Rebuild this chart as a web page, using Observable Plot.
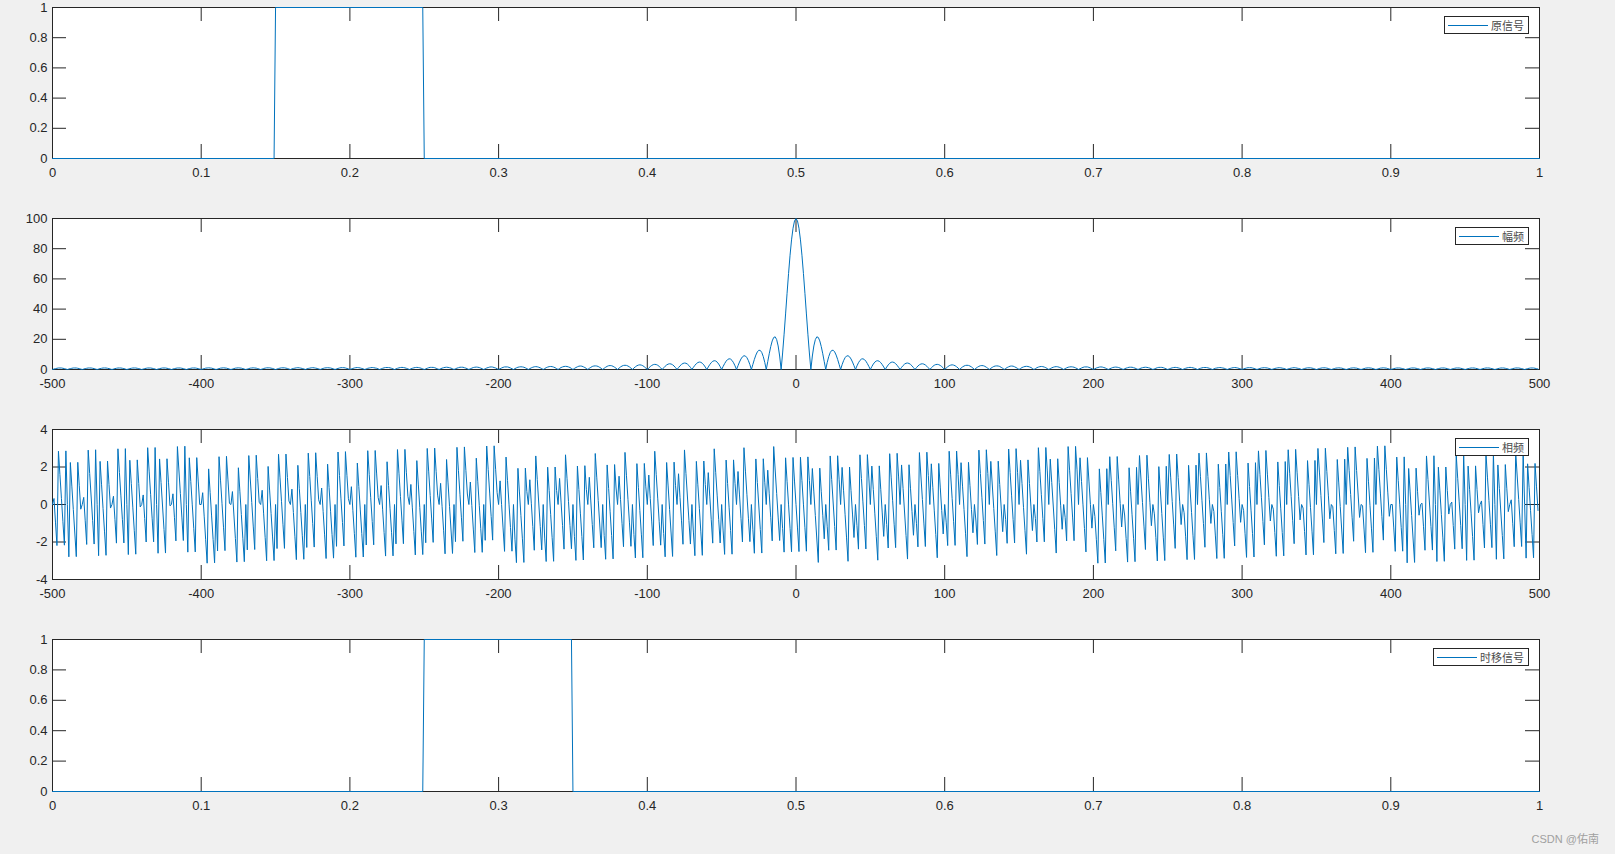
<!DOCTYPE html>
<html>
<head>
<meta charset="utf-8">
<script src="https://cdn.jsdelivr.net/npm/d3@7"></script>
<script src="https://cdn.jsdelivr.net/npm/@observablehq/plot@0.6"></script>
<style>
html, body { margin: 0; padding: 0; background: #f0f0f0; }
#fig { position: relative; width: 1615px; height: 854px; background: #f0f0f0; overflow: hidden; }
.panel { position: absolute; left: 0; }
.legend { position: absolute; right: 86px; display: flex; align-items: center; background: #fff;
  border: 1px solid #262626; height: 16px; padding: 0 4px 0 3px; }
.legend .sw { width: 40px; height: 0; border-top: 1px solid #0072BD; margin-right: 3px; }
.legend .lbl { font-family: "Noto Sans CJK SC", sans-serif; font-size: 11px; color: #4a4a4a; line-height: 16px; }
.wm { position: absolute; right: 16px; top: 830px; font-family: "Liberation Sans", "Noto Sans CJK SC", sans-serif;
  font-size: 11px; color: #a0a0a0; white-space: nowrap; }
</style>
</head>
<body>
<div id="fig"></div>
<script>
// ---------------- data ----------------
// time-domain signals (sample instants where the value changes; flat runs between them)
const timeOriginal   = [0, 0.149, 0.150, 0.249, 0.250, 1];
const signalOriginal = [0, 0, 1, 1, 0, 0];
const timeShifted    = [0, 0.249, 0.250, 0.349, 0.350, 1];
const signalShifted  = [0, 0, 1, 1, 0, 0];

// frequency axis: -500 … 499 Hz, 1 Hz spacing
const freqStart = -500;

// magnitude spectrum |X(f)|, f = -500 … 499
const magnitude = [
0,0.3,0.6,0.8,1.0,1.0,1.0,0.8,0.6,0.3,
0,0.3,0.6,0.8,1.0,1.0,1.0,0.8,0.6,0.3,
0,0.3,0.6,0.8,1.0,1.0,1.0,0.8,0.6,0.3,
0,0.3,0.6,0.8,1.0,1.0,1.0,0.8,0.6,0.3,
0,0.3,0.6,0.8,1.0,1.0,1.0,0.8,0.6,0.3,
0,0.3,0.6,0.8,1.0,1.0,1.0,0.8,0.6,0.3,
0,0.3,0.6,0.8,1.0,1.0,1.0,0.8,0.6,0.3,
0,0.3,0.6,0.8,1.0,1.0,1.0,0.8,0.6,0.3,
0,0.3,0.6,0.8,1.0,1.0,1.0,0.8,0.6,0.3,
0,0.3,0.6,0.8,1.0,1.0,1.0,0.8,0.6,0.3,
0,0.3,0.6,0.9,1.0,1.1,1.0,0.9,0.6,0.3,
0,0.3,0.6,0.9,1.0,1.1,1.0,0.9,0.6,0.3,
0,0.3,0.6,0.9,1.0,1.1,1.0,0.9,0.6,0.3,
0,0.3,0.6,0.9,1.0,1.1,1.0,0.9,0.6,0.3,
0,0.3,0.7,0.9,1.1,1.1,1.1,0.9,0.7,0.3,
0,0.3,0.7,0.9,1.1,1.1,1.1,0.9,0.7,0.3,
0,0.4,0.7,0.9,1.1,1.2,1.1,0.9,0.7,0.4,
0,0.4,0.7,0.9,1.1,1.2,1.1,0.9,0.7,0.4,
0,0.4,0.7,1.0,1.1,1.2,1.1,1.0,0.7,0.4,
0,0.4,0.7,1.0,1.2,1.2,1.2,1.0,0.7,0.4,
0,0.4,0.7,1.0,1.2,1.3,1.2,1.0,0.7,0.4,
0,0.4,0.8,1.0,1.2,1.3,1.2,1.0,0.8,0.4,
0,0.4,0.8,1.1,1.3,1.3,1.3,1.1,0.8,0.4,
0,0.4,0.8,1.1,1.3,1.4,1.3,1.1,0.8,0.4,
0,0.4,0.8,1.1,1.3,1.4,1.3,1.1,0.8,0.4,
0,0.4,0.8,1.2,1.4,1.4,1.4,1.2,0.8,0.4,
0,0.5,0.9,1.2,1.4,1.5,1.4,1.2,0.9,0.5,
0,0.5,0.9,1.2,1.5,1.5,1.5,1.2,0.9,0.5,
0,0.5,0.9,1.3,1.5,1.6,1.5,1.3,0.9,0.5,
0,0.5,1.0,1.3,1.6,1.7,1.6,1.3,1.0,0.5,
0,0.5,1.0,1.4,1.7,1.7,1.7,1.4,1.0,0.5,
0,0.6,1.1,1.5,1.7,1.8,1.7,1.5,1.1,0.6,
0,0.6,1.1,1.5,1.8,1.9,1.8,1.5,1.1,0.6,
0,0.6,1.2,1.6,1.9,2.0,1.9,1.6,1.2,0.6,
0,0.7,1.3,1.7,2.0,2.1,2.0,1.7,1.3,0.7,
0,0.7,1.3,1.8,2.2,2.3,2.2,1.8,1.3,0.7,
0,0.8,1.4,2.0,2.3,2.4,2.3,2.0,1.4,0.8,
0,0.8,1.5,2.1,2.5,2.6,2.5,2.1,1.5,0.8,
0,0.9,1.7,2.3,2.7,2.8,2.7,2.3,1.7,0.9,
0,1.0,1.8,2.5,2.9,3.1,2.9,2.5,1.8,1.0,
0,1.01,1.94,2.70,3.20,3.40,3.27,2.81,2.06,1.10,
0,1.12,2.15,3.00,3.56,3.79,3.65,3.14,2.31,1.23,
0,1.26,2.42,3.38,4.02,4.28,4.13,3.56,2.62,1.40,
0,1.44,2.77,3.87,4.62,4.93,4.76,4.11,3.04,1.62,
0,1.68,3.24,4.54,5.43,5.82,5.63,4.88,3.61,1.94,
0,2.02,3.91,5.50,6.60,7.10,6.90,6.01,4.47,2.41,
0,2.53,4.94,6.98,8.43,9.11,8.92,7.82,5.86,3.18,
0,3.40,6.69,9.55,11.66,12.75,12.63,11.21,8.51,4.69,
0,5.18,10.40,15.15,18.93,21.23,21.63,19.81,15.60,8.94,
0,10.93,23.39,36.79,50.46,63.66,75.69,85.84,93.55,98.36,
100,98.36,93.55,85.84,75.69,63.66,50.46,36.79,23.39,10.93,
0,8.94,15.60,19.81,21.63,21.23,18.93,15.15,10.40,5.18,
0,4.69,8.51,11.21,12.63,12.75,11.66,9.55,6.69,3.40,
0,3.18,5.86,7.82,8.92,9.11,8.43,6.98,4.94,2.53,
0,2.41,4.47,6.01,6.90,7.10,6.60,5.50,3.91,2.02,
0,1.94,3.61,4.88,5.63,5.82,5.43,4.54,3.24,1.68,
0,1.62,3.04,4.11,4.76,4.93,4.62,3.87,2.77,1.44,
0,1.40,2.62,3.56,4.13,4.28,4.02,3.38,2.42,1.26,
0,1.23,2.31,3.14,3.65,3.79,3.56,3.00,2.15,1.12,
0,1.10,2.06,2.81,3.27,3.40,3.20,2.70,1.94,1.01,
0,1.0,1.8,2.5,2.9,3.1,2.9,2.5,1.8,1.0,
0,0.9,1.7,2.3,2.7,2.8,2.7,2.3,1.7,0.9,
0,0.8,1.5,2.1,2.5,2.6,2.5,2.1,1.5,0.8,
0,0.8,1.4,2.0,2.3,2.4,2.3,2.0,1.4,0.8,
0,0.7,1.3,1.8,2.2,2.3,2.2,1.8,1.3,0.7,
0,0.7,1.3,1.7,2.0,2.1,2.0,1.7,1.3,0.7,
0,0.6,1.2,1.6,1.9,2.0,1.9,1.6,1.2,0.6,
0,0.6,1.1,1.5,1.8,1.9,1.8,1.5,1.1,0.6,
0,0.6,1.1,1.5,1.7,1.8,1.7,1.5,1.1,0.6,
0,0.5,1.0,1.4,1.7,1.7,1.7,1.4,1.0,0.5,
0,0.5,1.0,1.3,1.6,1.7,1.6,1.3,1.0,0.5,
0,0.5,0.9,1.3,1.5,1.6,1.5,1.3,0.9,0.5,
0,0.5,0.9,1.2,1.5,1.5,1.5,1.2,0.9,0.5,
0,0.5,0.9,1.2,1.4,1.5,1.4,1.2,0.9,0.5,
0,0.4,0.8,1.2,1.4,1.4,1.4,1.2,0.8,0.4,
0,0.4,0.8,1.1,1.3,1.4,1.3,1.1,0.8,0.4,
0,0.4,0.8,1.1,1.3,1.4,1.3,1.1,0.8,0.4,
0,0.4,0.8,1.1,1.3,1.3,1.3,1.1,0.8,0.4,
0,0.4,0.8,1.0,1.2,1.3,1.2,1.0,0.8,0.4,
0,0.4,0.7,1.0,1.2,1.3,1.2,1.0,0.7,0.4,
0,0.4,0.7,1.0,1.2,1.2,1.2,1.0,0.7,0.4,
0,0.4,0.7,1.0,1.1,1.2,1.1,1.0,0.7,0.4,
0,0.4,0.7,0.9,1.1,1.2,1.1,0.9,0.7,0.4,
0,0.4,0.7,0.9,1.1,1.2,1.1,0.9,0.7,0.4,
0,0.3,0.7,0.9,1.1,1.1,1.1,0.9,0.7,0.3,
0,0.3,0.7,0.9,1.1,1.1,1.1,0.9,0.7,0.3,
0,0.3,0.6,0.9,1.0,1.1,1.0,0.9,0.6,0.3,
0,0.3,0.6,0.9,1.0,1.1,1.0,0.9,0.6,0.3,
0,0.3,0.6,0.9,1.0,1.1,1.0,0.9,0.6,0.3,
0,0.3,0.6,0.9,1.0,1.1,1.0,0.9,0.6,0.3,
0,0.3,0.6,0.8,1.0,1.0,1.0,0.8,0.6,0.3,
0,0.3,0.6,0.8,1.0,1.0,1.0,0.8,0.6,0.3,
0,0.3,0.6,0.8,1.0,1.0,1.0,0.8,0.6,0.3,
0,0.3,0.6,0.8,1.0,1.0,1.0,0.8,0.6,0.3,
0,0.3,0.6,0.8,1.0,1.0,1.0,0.8,0.6,0.3,
0,0.3,0.6,0.8,1.0,1.0,1.0,0.8,0.6,0.3,
0,0.3,0.6,0.8,1.0,1.0,1.0,0.8,0.6,0.3,
0,0.3,0.6,0.8,1.0,1.0,1.0,0.8,0.6,0.3,
0,0.3,0.6,0.8,1.0,1.0,1.0,0.8,0.6,0.3,
0,0.3,0.6,0.8,1.0,1.0,1.0,0.8,0.6,0.3
];

// phase spectrum angle(X(f)) in rad, f = -500 … 499
const phase = [
0,0.32,-0.94,-2.19,2.84,1.59,0.33,-0.92,-2.17,2.86,
0,-2.79,2.24,0.98,-0.27,-1.52,-2.78,2.25,1.00,-0.25,
0,0.38,-0.87,-2.13,2.90,1.65,0.40,-0.86,-2.11,2.92,
0,-2.73,2.30,1.05,-0.21,-1.46,-2.71,2.32,1.06,-0.19,
0,0.44,-0.81,-2.06,2.97,1.71,0.46,-0.79,-2.05,2.98,
0,-2.67,2.36,1.11,-0.14,-1.40,-2.65,2.38,1.12,-0.13,
0,0.51,-0.75,-2.00,3.03,1.78,0.52,-0.73,-1.99,3.04,
0,-2.60,2.43,1.17,-0.08,-1.34,-2.59,2.44,1.19,-0.07,
0,0.57,-0.68,-1.94,3.09,1.84,0.58,-0.67,-1.92,3.11,
0,-2.54,2.49,1.23,-0.02,-1.27,-2.53,2.50,1.25,0.00,
0,0.63,-0.62,-1.88,-3.13,1.90,0.65,-0.61,-1.86,-3.11,
0,-2.48,2.55,1.30,0.04,-1.21,-2.46,2.57,1.31,0.06,
0,0.69,-0.56,-1.81,-3.07,1.96,0.71,-0.54,-1.80,-3.05,
0,-2.42,2.61,1.36,0.11,-1.15,-2.40,2.63,1.38,0.12,
0,0.76,-0.50,-1.75,-3.00,2.03,0.77,-0.48,-1.73,-2.99,
0,-2.35,2.68,1.42,0.17,-1.08,-2.34,2.69,1.44,0.19,
0,0.82,-0.43,-1.69,-2.94,2.09,0.84,-0.42,-1.67,-2.92,
0,-2.29,2.74,1.49,0.23,-1.02,-2.27,2.76,1.50,0.25,
0,0.88,-0.37,-1.62,-2.88,2.15,0.90,-0.36,-1.61,-2.86,
0,-2.23,2.80,1.55,0.30,-0.96,-2.21,2.82,1.56,0.31,
0,0.95,-0.31,-1.56,-2.81,2.21,0.96,-0.29,-1.55,-2.80,
0,-2.16,2.87,1.61,0.36,-0.90,-2.15,2.88,1.63,0.37,
0,1.01,-0.25,-1.50,-2.75,2.28,1.02,-0.23,-1.48,-2.74,
0,-2.10,2.93,1.67,0.42,-0.83,-2.09,2.94,1.69,0.44,
0,1.07,-0.18,-1.44,-2.69,2.34,1.09,-0.17,-1.42,-2.67,
0,-2.04,2.99,1.74,0.48,-0.77,-2.02,3.01,1.75,0.50,
0,1.13,-0.12,-1.37,-2.63,2.40,1.15,-0.10,-1.36,-2.61,
0,-1.98,3.05,1.80,0.55,-0.71,-1.96,3.07,1.82,0.56,
0,1.20,-0.06,-1.31,-2.56,2.47,1.21,-0.04,-1.29,-2.55,
0,-1.91,3.12,1.86,0.61,-0.64,-1.90,3.13,1.88,0.63,
0,1.26,0.01,-1.25,-2.50,2.53,1.28,0.02,-1.23,-2.49,
0,-1.85,-3.10,1.93,0.67,-0.58,-1.83,-3.09,1.94,0.69,
0,1.32,0.07,-1.18,-2.44,2.59,1.34,0.08,-1.17,-2.42,
0,-1.79,-3.04,1.99,0.74,-0.52,-1.77,-3.03,2.00,0.75,
0,1.39,0.13,-1.12,-2.38,2.65,1.40,0.15,-1.11,-2.36,
0,-1.72,-2.98,2.05,0.80,-0.46,-1.71,-2.96,2.07,0.81,
0,1.45,0.19,-1.06,-2.31,2.72,1.46,0.21,-1.04,-2.30,
0,-1.66,-2.92,2.11,0.86,-0.39,-1.65,-2.90,2.13,0.88,
0,1.51,0.26,-1.00,-2.25,2.78,1.53,0.27,-0.98,-2.23,
0,-1.60,-2.85,2.18,0.92,-0.33,-1.58,-2.84,2.19,0.94,
0,1.57,0.32,-0.93,-2.19,2.84,1.59,0.34,-0.92,-2.17,
0,-1.54,-2.79,2.24,0.99,-0.27,-1.52,-2.77,2.26,1.00,
0,1.64,0.38,-0.87,-2.12,2.91,1.65,0.40,-0.85,-2.11,
0,-1.47,-2.73,2.30,1.05,-0.20,-1.46,-2.71,2.32,1.07,
0,1.70,0.45,-0.81,-2.06,2.97,1.72,0.46,-0.79,-2.05,
0,-1.41,-2.66,2.37,1.11,-0.14,-1.39,-2.65,2.38,1.13,
0,1.76,0.51,-0.74,-2.00,3.03,1.78,0.52,-0.73,-1.98,
0,-1.35,-2.60,2.43,1.17,-0.08,-1.33,-2.59,2.44,1.19,
0,1.83,0.57,-0.68,-1.94,3.09,1.84,0.59,-0.67,-1.92,
0,-1.28,-2.54,2.49,1.24,-0.02,-1.27,-2.52,2.51,1.25,
0,-1.25,-2.51,2.52,1.27,0.02,-1.24,-2.49,2.54,1.28,
0,1.92,0.67,-0.59,-1.84,-3.09,1.94,0.68,-0.57,-1.83,
0,-1.19,-2.44,2.59,1.33,0.08,-1.17,-2.43,2.60,1.35,
0,1.98,0.73,-0.52,-1.78,-3.03,2.00,0.74,-0.51,-1.76,
0,-1.13,-2.38,2.65,1.39,0.14,-1.11,-2.37,2.66,1.41,
0,2.05,0.79,-0.46,-1.72,-2.97,2.06,0.81,-0.45,-1.70,
0,-1.07,-2.32,2.71,1.46,0.20,-1.05,-2.30,2.73,1.47,
0,2.11,0.85,-0.40,-1.65,-2.91,2.12,0.87,-0.38,-1.64,
0,-1.00,-2.26,2.77,1.52,0.27,-0.99,-2.24,2.79,1.54,
0,2.17,0.92,-0.34,-1.59,-2.84,2.19,0.93,-0.32,-1.57,
0,-0.94,-2.19,2.84,1.58,0.33,-0.92,-2.18,2.85,1.60,
0,2.23,0.98,-0.27,-1.53,-2.78,2.25,1.00,-0.26,-1.51,
0,-0.88,-2.13,2.90,1.65,0.39,-0.86,-2.11,2.92,1.66,
0,2.30,1.04,-0.21,-1.46,-2.72,2.31,1.06,-0.19,-1.45,
0,-0.81,-2.07,2.96,1.71,0.46,-0.80,-2.05,2.98,1.72,
0,2.36,1.11,-0.15,-1.40,-2.65,2.38,1.12,-0.13,-1.39,
0,-0.75,-2.00,3.03,1.77,0.52,-0.74,-1.99,3.04,1.79,
0,2.42,1.17,-0.08,-1.34,-2.59,2.44,1.18,-0.07,-1.32,
0,-0.69,-1.94,3.09,1.83,0.58,-0.67,-1.93,3.10,1.85,
0,2.49,1.23,-0.02,-1.28,-2.53,2.50,1.25,-0.01,-1.26,
0,-0.63,-1.88,-3.13,1.90,0.64,-0.61,-1.86,-3.12,1.91,
0,2.55,1.29,0.04,-1.21,-2.47,2.56,1.31,0.06,-1.20,
0,-0.56,-1.82,-3.07,1.96,0.71,-0.55,-1.80,-3.05,1.98,
0,2.61,1.36,0.10,-1.15,-2.40,2.63,1.37,0.12,-1.13,
0,-0.50,-1.75,-3.01,2.02,0.77,-0.48,-1.74,-2.99,2.04,
0,2.67,1.42,0.17,-1.09,-2.34,2.69,1.44,0.18,-1.07,
0,-0.44,-1.69,-2.94,2.09,0.83,-0.42,-1.67,-2.93,2.10,
0,2.74,1.48,0.23,-1.02,-2.28,2.75,1.50,0.25,-1.01,
0,-0.37,-1.63,-2.88,2.15,0.90,-0.36,-1.61,-2.87,2.16,
0,2.80,1.55,0.29,-0.96,-2.21,2.81,1.56,0.31,-0.95,
0,-0.31,-1.56,-2.82,2.21,0.96,-0.30,-1.55,-2.80,2.23,
0,2.86,1.61,0.36,-0.90,-2.15,2.88,1.62,0.37,-0.88,
0,-0.25,-1.50,-2.76,2.27,1.02,-0.23,-1.49,-2.74,2.29,
0,2.92,1.67,0.42,-0.84,-2.09,2.94,1.69,0.43,-0.82,
0,-0.19,-1.44,-2.69,2.34,1.08,-0.17,-1.42,-2.68,2.35,
0,2.99,1.73,0.48,-0.77,-2.03,3.00,1.75,0.50,-0.76,
0,-0.12,-1.38,-2.63,2.40,1.15,-0.11,-1.36,-2.61,2.42,
0,3.05,1.80,0.54,-0.71,-1.96,3.07,1.81,0.56,-0.69,
0,-0.06,-1.31,-2.57,2.46,1.21,-0.04,-1.30,-2.55,2.48,
0,3.11,1.86,0.61,-0.65,-1.90,3.13,1.88,0.62,-0.63,
0,0.00,-1.25,-2.50,2.53,1.27,0.02,-1.23,-2.49,2.54,
0,-3.11,1.92,0.67,-0.58,-1.84,-3.09,1.94,0.68,-0.57,
0,0.07,-1.19,-2.44,2.59,1.34,0.08,-1.17,-2.43,2.60,
0,-3.04,1.99,0.73,-0.52,-1.78,-3.03,2.00,0.75,-0.51,
0,0.13,-1.12,-2.38,2.65,1.40,0.14,-1.11,-2.36,2.67,
0,-2.98,2.05,0.79,-0.46,-1.71,-2.97,2.06,0.81,-0.44,
0,0.19,-1.06,-2.32,2.71,1.46,0.21,-1.05,-2.30,2.73,
0,-2.92,2.11,0.86,-0.40,-1.65,-2.90,2.13,0.87,-0.38,
0,0.25,-1.00,-2.25,2.78,1.52,0.27,-0.98,-2.24,2.79,
0,-2.86,2.17,0.92,-0.33,-1.59,-2.84,2.19,0.94,-0.32
];

// tick values
const timeTicks   = [0, 0.1, 0.2, 0.3, 0.4, 0.5, 0.6, 0.7, 0.8, 0.9, 1];
const unitTicks   = [0, 0.2, 0.4, 0.6, 0.8, 1];
const freqTicks   = [-500, -400, -300, -200, -100, 0, 100, 200, 300, 400, 500];
const magTicks    = [0, 20, 40, 60, 80, 100];
const phaseTicks  = [-4, -2, 0, 2, 4];

const legendLabels = ["原信号", "幅频", "相频", "时移信号"];
const watermark = "CSDN @佑南";

// ---------------- drawing ----------------
const freqs = d3.range(freqStart, freqStart + magnitude.length);
const origData  = timeOriginal.map((t, i) => ({x: t, y: signalOriginal[i]}));
const shiftData = timeShifted.map((t, i) => ({x: t, y: signalShifted[i]}));
const magData   = magnitude.map((m, i) => ({x: freqs[i], y: m}));
const phaseData = phase.map((p, i) => ({x: freqs[i], y: p}));

const W = 1615, ML = 52, MR = 76, MT = 7, TICK = 14;
const INK = "#262626", BLUE = "#0072BD";
const fig = document.getElementById("fig");

function panel({data, xDomain, yDomain, xTicks, yTicks, top, innerH, label}) {
  const MB = 54;
  const H = MT + innerH + MB;
  const innerW = W - ML - MR;
  const dy = (yDomain[1] - yDomain[0]) * TICK / innerH;
  const dx = (xDomain[1] - xDomain[0]) * TICK / innerW;
  const fmt = d => String(d);
  const chart = Plot.plot({
    width: W, height: H,
    marginLeft: ML, marginRight: MR, marginTop: MT, marginBottom: MB,
    style: {background: "transparent", fontFamily: '"Liberation Sans", Arial, sans-serif', fontSize: "13px", color: INK, overflow: "visible"},
    x: {domain: xDomain},
    y: {domain: yDomain},
    marks: [
      Plot.frame({fill: "white"}),
      Plot.ruleX(xTicks, {x: d => d, y1: () => yDomain[0], y2: () => yDomain[0] + dy, stroke: INK}),
      Plot.ruleX(xTicks, {x: d => d, y1: () => yDomain[1], y2: () => yDomain[1] - dy, stroke: INK}),
      Plot.ruleY(yTicks, {y: d => d, x1: () => xDomain[0], x2: () => xDomain[0] + dx, stroke: INK}),
      Plot.ruleY(yTicks, {y: d => d, x1: () => xDomain[1], x2: () => xDomain[1] - dx, stroke: INK}),
      Plot.frame({stroke: INK}),
      Plot.axisX(xTicks, {tickSize: 0, tickPadding: 9, tickFormat: fmt, label: null, fontSize: 13}),
      Plot.axisY(yTicks, {tickSize: 0, tickPadding: 5, tickFormat: fmt, label: null, fontSize: 13}),
      Plot.line(data, {x: "x", y: "y", stroke: BLUE, strokeWidth: 1})
    ]
  });
  const wrap = document.createElement("div");
  wrap.className = "panel";
  wrap.style.top = top + "px";
  wrap.appendChild(chart);
  fig.appendChild(wrap);

  const lg = document.createElement("div");
  lg.className = "legend";
  lg.style.top = (top + MT + 9) + "px";
  lg.innerHTML = `<span class="sw"></span><span class="lbl">${label}</span>`;
  fig.appendChild(lg);
}

panel({data: origData,  xDomain: [0, 1],      yDomain: [0, 1],    xTicks: timeTicks, yTicks: unitTicks,  top: 0,   innerH: 151, label: legendLabels[0]});
panel({data: magData,   xDomain: [-500, 500], yDomain: [0, 100],  xTicks: freqTicks, yTicks: magTicks,   top: 211, innerH: 151, label: legendLabels[1]});
panel({data: phaseData, xDomain: [-500, 500], yDomain: [-4, 4],   xTicks: freqTicks, yTicks: phaseTicks, top: 422, innerH: 150, label: legendLabels[2]});
panel({data: shiftData, xDomain: [0, 1],      yDomain: [0, 1],    xTicks: timeTicks, yTicks: unitTicks,  top: 632, innerH: 152, label: legendLabels[3]});

const wm = document.createElement("div");
wm.className = "wm";
wm.textContent = watermark;
fig.appendChild(wm);
</script>
</body>
</html>
